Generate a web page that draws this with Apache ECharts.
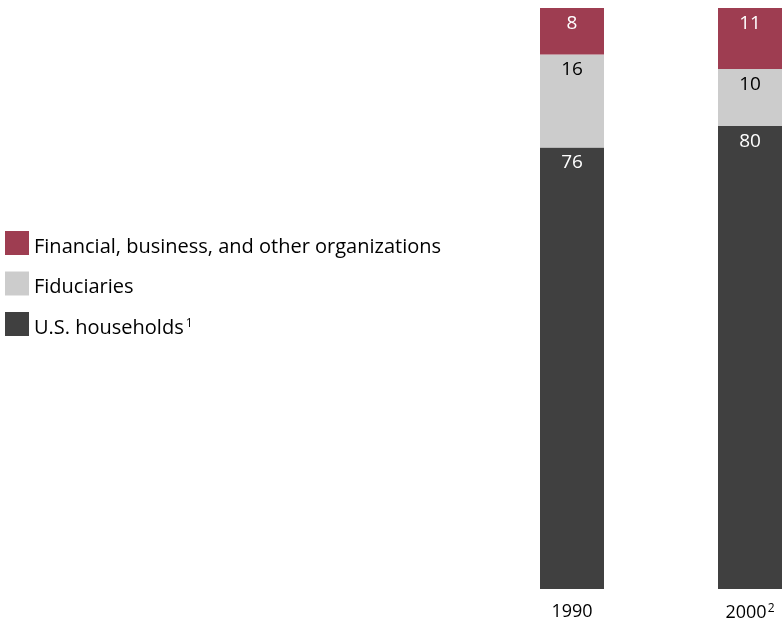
<!DOCTYPE html>
<html><head><meta charset="utf-8">
<script src="https://cdn.jsdelivr.net/npm/echarts@6/dist/echarts.min.js"></script>
<style>html,body{margin:0;padding:0;background:#fff}#c{width:782px;height:622px}</style>
</head><body><div id="c"></div>
<script>
const categories = ['1990', '2000'];
const categoryNotes = ['', '2'];
const households = [76, 79.7];
const fiduciaries = [16, 9.8];
const financial = [8, 10.5];
const seriesNames = ['U.S. households', 'Fiduciaries', 'Financial, business, and other organizations'];
const seriesNotes = ['1', '', ''];
const colors = ['#404040', '#cccccc', '#9e3d51'];
const labelColors = ['#ffffff', '#000000', '#ffffff'];
const FONT = '"Open Sans", "Noto Sans", sans-serif';

const chart = echarts.init(document.getElementById('c'));
const dataSets = [households, fiduciaries, financial];
chart.setOption({
  animation: false,
  textStyle: { fontFamily: FONT },
  legend: {
    orient: 'vertical', left: 0, top: 226, itemWidth: 24, itemHeight: 24, itemGap: 14.5,
    icon: 'rect',
    data: [seriesNames[2], seriesNames[1], seriesNames[0]],
    formatter: function (n) {
      const i = seriesNames.indexOf(n);
      return seriesNotes[i] ? '{t|' + n + '}{sup|' + seriesNotes[i] + '}' : '{t|' + n + '}';
    },
    textStyle: { fontSize: 20, color: '#000', fontFamily: FONT,
      rich: {
        t: { fontSize: 20, color: '#000', fontFamily: FONT, padding: [8, 0, 0, 0] },
        sup: { fontSize: 12, verticalAlign: 'top', padding: [8, 0, 0, 2], color: '#000', fontFamily: FONT }
      } }
  },
  grid: { left: 483, top: 8, width: 356, height: 581, outerBoundsMode: 'none' },
  xAxis: {
    type: 'category', data: categories,
    axisLine: { show: false }, axisTick: { show: false },
    axisLabel: {
      margin: 14, fontSize: 18, color: '#000', fontFamily: FONT,
      formatter: function (v) {
        const i = categories.indexOf(v);
        return categoryNotes[i] ? v + '{sup|' + categoryNotes[i] + '}' : v;
      },
      rich: { sup: { fontSize: 12, verticalAlign: 'top', padding: [0, 0, 7, 1], color: '#000', fontFamily: FONT } }
    }
  },
  yAxis: { type: 'value', min: 0, max: 100, show: false, splitLine: { show: false } },
  series: dataSets.map(function (d, i) {
    return {
      name: seriesNames[i], type: 'bar', stack: 'total', data: d, barWidth: 64,
      itemStyle: { color: colors[i] },
      label: {
        show: true, position: 'insideTop', distance: 6, fontSize: 19, color: labelColors[i], fontFamily: FONT,
        formatter: function (p) { return String(Math.round(p.value)); }
      }
    };
  })
});
</script></body></html>
